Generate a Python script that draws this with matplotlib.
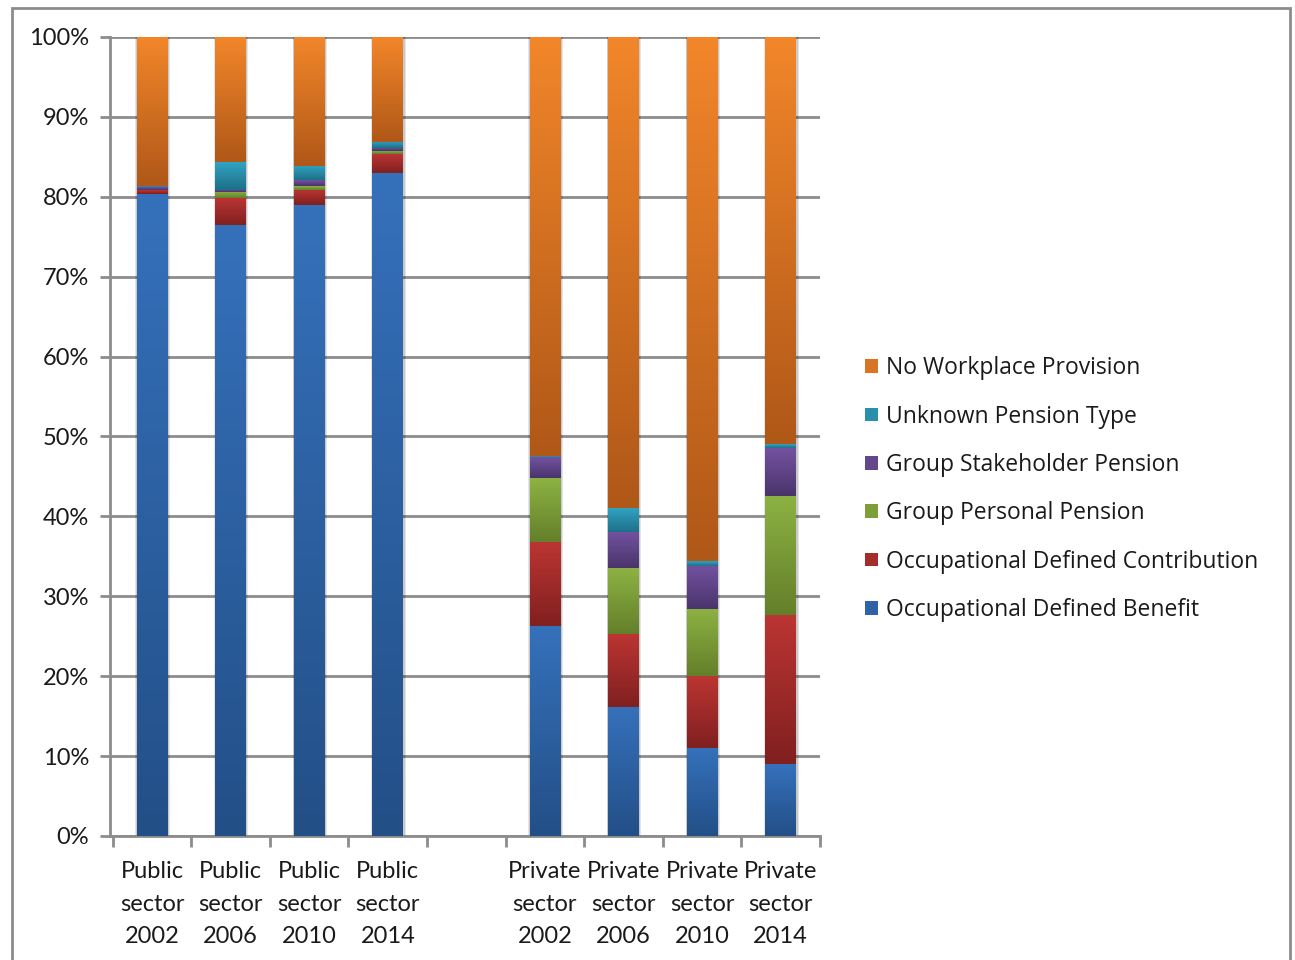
import numpy as np
import matplotlib
matplotlib.use("Agg")
import matplotlib.pyplot as plt
from matplotlib.colors import LinearSegmentedColormap
from matplotlib.patches import Patch, Rectangle

# Workplace pension provision by sector and year (% of employees)
categories = [
    "Public\nsector\n2002", "Public\nsector\n2006", "Public\nsector\n2010", "Public\nsector\n2014",
    "",
    "Private\nsector\n2002", "Private\nsector\n2006", "Private\nsector\n2010", "Private\nsector\n2014",
]
occ_db = [80.3, 76.5, 79.0, 83.0, 0, 26.3, 16.2, 11.0, 9.0]
occ_dc = [0.5, 3.3, 1.9, 2.3, 0, 10.5, 9.1, 9.0, 18.6]
group_pp = [0.1, 0.8, 0.5, 0.4, 0, 8.0, 8.2, 8.4, 15.0]
group_sp = [0.3, 0.3, 0.7, 0.4, 0, 2.6, 4.6, 5.4, 6.0]
unknown = [0.1, 3.5, 1.8, 0.8, 0, 0.1, 2.9, 0.6, 0.5]
no_provision = [18.7, 15.6, 16.1, 13.1, 0, 52.5, 59.0, 65.6, 50.9]

series = [
    ("Occupational Defined Benefit", occ_db, ("#234f87", "#3571bb")),
    ("Occupational Defined Contribution", occ_dc, ("#80201f", "#bb3533")),
    ("Group Personal Pension", group_pp, ("#647f2a", "#8db243")),
    ("Group Stakeholder Pension", group_sp, ("#4a346c", "#7352a0")),
    ("Unknown Pension Type", unknown, ("#1d7088", "#31a3c2")),
    ("No Workplace Provision", no_provision, ("#b05818", "#f2862a")),
]

fig = plt.figure(figsize=(12.95, 9.6), dpi=100)
ax = fig.add_axes([0.0849, 0.1292, 0.5483, 0.8323])

# outer chart border
fig.patches.append(Rectangle((12 / 1295, -0.05), 1278 / 1295, 1.05 - 8 / 960,
                             transform=fig.transFigure, fill=False,
                             edgecolor="#8c8c8c", linewidth=2, zorder=0))

x = np.arange(len(categories))
width = 0.39
grad = np.linspace(0, 1, 128).reshape(-1, 1)
bottom = np.zeros(len(categories))
handles = []
for name, vals, (dark, light) in series:
    vals = np.array(vals, dtype=float)
    bars = ax.bar(x, vals, width, bottom=bottom, color="none", linewidth=0, zorder=3)
    cmap = LinearSegmentedColormap.from_list(name, [dark, light])
    for rect, v in zip(bars, vals):
        if v <= 0:
            continue
        x0, y0 = rect.get_x(), rect.get_y()
        ax.imshow(grad, cmap=cmap, origin="lower", aspect="auto", zorder=3,
                  extent=(x0, x0 + rect.get_width(), y0, y0 + rect.get_height()),
                  interpolation="bilinear")
    mid = cmap(0.6)
    handles.append(Patch(facecolor=mid, edgecolor="none", label=name))
    bottom += vals

# soft shadow behind each bar
for xi, total in zip(x, bottom):
    if total <= 0:
        continue
    for k, a in [(0.03, 0.10), (0.018, 0.12)]:
        ax.add_patch(Rectangle((xi - width / 2 - k / 2, 0), width + k * 1.6, total,
                               facecolor="#000000", alpha=a, linewidth=0, zorder=2))

ax.set_xlim(-0.535, len(categories) - 0.51)
ax.set_ylim(0, 100)
ax.set_yticks(np.arange(0, 101, 10))
ax.set_yticklabels([f"{v}%" for v in range(0, 101, 10)])
ax.yaxis.grid(True, color="#8c8c8c", linewidth=2, zorder=1)
ax.set_axisbelow(True)

ax.set_xticks(x)
ax.set_xticklabels(categories, linespacing=1.68)
ax.set_xticks(np.arange(-0.5, len(categories) - 0.4), minor=True)
ax.tick_params(axis="x", which="major", length=0, pad=18)
ax.tick_params(axis="x", which="minor", length=8, width=2, color="#8c8c8c")
ax.tick_params(axis="y", length=7, width=2, color="#8c8c8c", pad=8)

for lab in ax.get_xticklabels() + ax.get_yticklabels():
    lab.set_fontfamily("Lato")
    lab.set_fontsize(17)
    lab.set_color("#1a1a1a")

for side in ["top", "right"]:
    ax.spines[side].set_visible(False)
for side in ["left", "bottom"]:
    ax.spines[side].set_color("#8c8c8c")
    ax.spines[side].set_linewidth(2)

fig.legend(handles=handles[::-1], loc="center left",
           bbox_to_anchor=(0.652, 0.4905), frameon=False,
           prop={"family": "Open Sans", "size": 16.5},
           handlelength=0.55, handleheight=0.55, handletextpad=0.35,
           labelspacing=1.06, labelcolor="#1a1a1a")

fig.savefig("out.png", dpi=100)
